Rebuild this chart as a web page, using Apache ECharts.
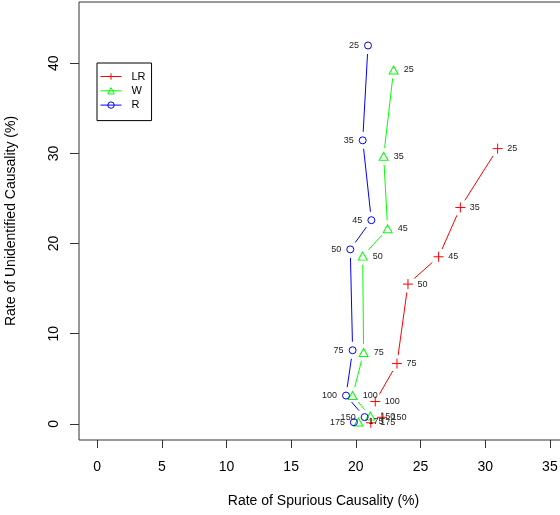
<!DOCTYPE html>
<html>
<head>
<meta charset="utf-8">
<script src="https://cdn.jsdelivr.net/npm/echarts@6/dist/echarts.min.js"></script>
<style>
  html, body { margin: 0; padding: 0; background: #fff; }
  #chart { width: 560px; height: 515px; }
</style>
</head>
<body>
<div id="chart"></div>
<script>
// Sample sizes used as point labels
const sizes = [25, 35, 45, 50, 75, 100, 150, 175];

// Rate of spurious causality (%) and rate of unidentified causality (%) per method
const lrSpurious = [30.96, 28.08, 26.40, 24.03, 23.18, 21.50, 22.02, 21.16];
const lrUnident  = [30.53, 24.00, 18.53, 15.50, 6.68, 2.47, 0.72, 0.11];

const wSpurious  = [22.92, 22.15, 22.46, 20.53, 20.60, 19.75, 21.12, 20.20];
const wUnident   = [39.26, 29.68, 21.63, 18.60, 7.90, 3.13, 0.85, 0.20];

const rSpurious  = [20.94, 20.53, 21.20, 19.57, 19.75, 19.24, 20.68, 19.85];
const rUnident   = [41.97, 31.45, 22.59, 19.35, 8.16, 3.13, 0.74, 0.17];

const xTicks = [0, 5, 10, 15, 20, 25, 30, 35];
const yTicks = [0, 10, 20, 30, 40];

const FONT = '"Liberation Sans", Arial, Helvetica, sans-serif';

const methods = [
  { name: 'LR', color: '#FF0000', x: lrSpurious, y: lrUnident,
    symbol: 'path://M0,5L10,5M5,0L5,10', size: 10, side: 'right', dist: 4 },
  { name: 'W', color: '#00FF00', x: wSpurious, y: wUnident,
    symbol: 'path://M5,0L10,8.66L0,8.66Z', size: [9, 8], side: 'right', dist: 5 },
  { name: 'R', color: '#0000FF', x: rSpurious, y: rUnident,
    symbol: 'path://M8,4A4,4,0,1,1,0,4A4,4,0,1,1,8,4Z', size: 7, side: 'left', dist: 5 }
];

// Connecting segments leave a gap around each point (like type = "b" plots)
const GAP = 8.5;
function gappedSegment(color) {
  return function (params, api) {
    const a = api.coord([api.value(0), api.value(1)]);
    const b = api.coord([api.value(2), api.value(3)]);
    const dx = b[0] - a[0], dy = b[1] - a[1];
    const len = Math.sqrt(dx * dx + dy * dy);
    if (len <= 2 * GAP) return { type: 'group', children: [] };
    const ux = dx / len, uy = dy / len;
    return {
      type: 'line',
      shape: { x1: a[0] + ux * GAP, y1: a[1] + uy * GAP, x2: b[0] - ux * GAP, y2: b[1] - uy * GAP },
      style: { stroke: color, lineWidth: 1 }
    };
  };
}

const series = [];
methods.forEach(function (m) {
  const segs = [];
  for (let i = 0; i + 1 < m.x.length; i++) {
    segs.push([m.x[i], m.y[i], m.x[i + 1], m.y[i + 1]]);
  }
  series.push({
    type: 'custom',
    name: m.name + '-segments',
    data: segs,
    encode: { x: [0, 2], y: [1, 3] },
    renderItem: gappedSegment(m.color),
    silent: true,
    z: 2
  });
});
methods.forEach(function (m) {
  series.push({
    type: 'line',
    name: m.name,
    data: m.x.map(function (v, i) { return [v, m.y[i]]; }),
    symbol: m.symbol,
    symbolSize: m.size,
    showAllSymbol: true,
    lineStyle: { width: 0, color: m.color },
    itemStyle: { color: 'rgba(0,0,0,0)', borderColor: m.color, borderWidth: 1 },
    label: {
      show: true,
      position: m.side,
      distance: m.dist,
      formatter: function (p) { return String(sizes[p.dataIndex]); },
      color: '#222',
      fontSize: 9,
      fontFamily: FONT
    },
    labelLayout: { hideOverlap: false },
    emphasis: { disabled: true },
    animation: false,
    z: 3
  });
});

const chart = echarts.init(document.getElementById('chart'), null, { renderer: 'canvas' });
chart.setOption({
  animation: false,
  backgroundColor: '#fff',
  textStyle: { fontFamily: FONT },
  grid: {
    left: 79, top: 2, right: -8, bottom: 75,
    show: true, borderColor: '#333', borderWidth: 1,
    containLabel: false,
    outerBoundsMode: 'none'
  },
  xAxis: {
    type: 'value',
    min: -1.4, max: 36.4,
    name: 'Rate of Spurious Causality (%)',
    nameLocation: 'middle',
    nameGap: 54,
    nameTextStyle: { fontSize: 14, color: '#000', fontFamily: FONT },
    axisLine: { show: false, onZero: false },
    splitLine: { show: false },
    axisTick: { show: true, length: 8, customValues: xTicks, lineStyle: { color: '#333' } },
    axisLabel: { customValues: xTicks, fontSize: 14, color: '#000', margin: 20, fontFamily: FONT }
  },
  yAxis: {
    type: 'value',
    min: -1.8, max: 46.8,
    name: 'Rate of Unidentified Causality (%)',
    nameLocation: 'middle',
    nameGap: 61,
    nameTextStyle: { fontSize: 14, color: '#000', fontFamily: FONT },
    axisLine: { show: false, onZero: false },
    splitLine: { show: false },
    axisTick: { show: true, length: 9, customValues: yTicks, lineStyle: { color: '#333' } },
    axisLabel: { customValues: yTicks, rotate: 90, fontSize: 14, color: '#000', margin: 18, fontFamily: FONT }
  },
  legend: {
    orient: 'vertical',
    left: 97, top: 63,
    padding: [8, 6, 10, 3],
    itemGap: 3.3,
    itemWidth: 21,
    itemHeight: 8,
    borderColor: '#000',
    borderWidth: 1,
    selectedMode: false,
    textStyle: { fontSize: 11, color: '#000', lineHeight: 10, padding: [0, 0, 0, 5], fontFamily: FONT },
    data: methods.map(function (m) {
      return {
        name: m.name,
        itemStyle: { color: 'rgba(0,0,0,0)', borderColor: m.color, borderWidth: 1 },
        lineStyle: { color: m.color, width: 1, opacity: 1 }
      };
    })
  },
  series: series
});
</script>
</body>
</html>
